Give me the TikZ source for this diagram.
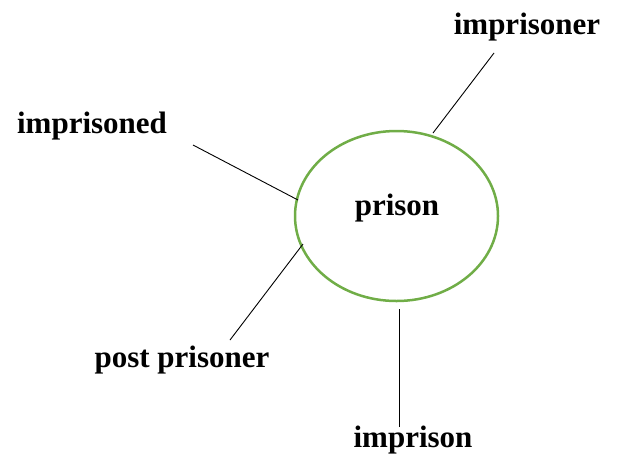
\documentclass[tikz,border=0pt]{standalone}
\usepackage{fontspec}
\setmainfont{Liberation Serif}
\definecolor{ringgreen}{HTML}{70AD47}
\begin{document}
\begin{tikzpicture}[x=1pt,y=-1pt,
  lbl/.style={inner sep=0pt,anchor=base,font=\fontsize{31}{36}\selectfont\bfseries},
  ring/.style={draw=ringgreen,line width=2.5pt,ellipse},
  conn/.style={draw=black,line width=0.9pt}]
\useasboundingbox (0,0) rectangle (620,459);
\draw[draw=ringgreen,line width=2.5pt] (396.5,216) ellipse [x radius=101.5,y radius=85];
\node[lbl] (prison) at (397,215) {prison};
\node[lbl] (imprisoner) at (527,34) {imprisoner};
\node[lbl] (imprisoned) at (92,133) {imprisoned};
\node[lbl] (post) at (182,367) {post prisoner};
\node[lbl] (imprison) at (413,447) {imprison};
\coordinate (a1) at (494,53);  \coordinate (a2) at (433,133);
\coordinate (b1) at (193,145); \coordinate (b2) at (298,200);
\coordinate (c1) at (230,340); \coordinate (c2) at (303,244);
\coordinate (d1) at (399,427); \coordinate (d2) at (399,309);
\draw[conn] (a1) -- (a2);
\draw[conn] (b1) -- (b2);
\draw[conn] (c1) -- (c2);
\draw[conn] (d1) -- (d2);
\end{tikzpicture}
\end{document}
